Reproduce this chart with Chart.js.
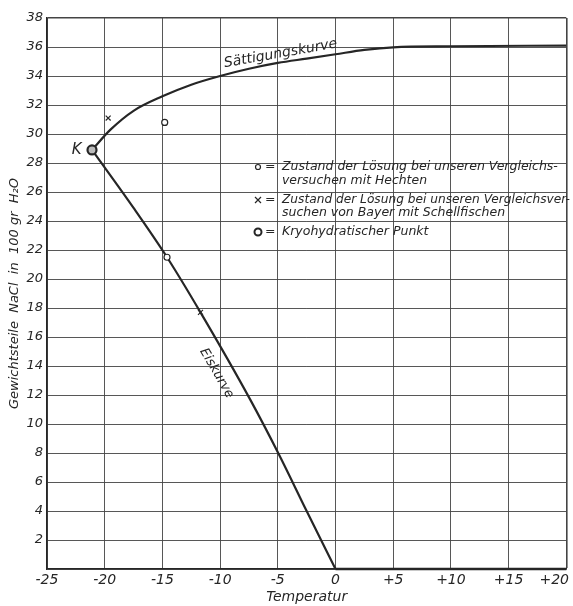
<!DOCTYPE html>
<html>
<head>
<meta charset="utf-8">
<script src="https://cdn.jsdelivr.net/npm/chart.js@4.4.1/dist/chart.umd.min.js"></script>
<style>
  html, body { margin: 0; padding: 0; background: #fff; }
  #grafico { display: block; }
</style>
</head>
<body>
<canvas id="grafico" width="573" height="606"></canvas>
<script>
// Sättigungskurve (Löslichkeit NaCl)
const satTemp = [-21.1, -19.5, -17.5, -15, -12.5, -10, -7.5, -5, -2.5, 0, 2.5, 5, 10, 20];
const satNaCl = [28.9, 30.3, 31.6, 32.6, 33.4, 34.0, 34.5, 34.9, 35.2, 35.5, 35.8, 35.98, 36.05, 36.1];

// Eiskurve
const eisTemp = [-21.1, -17.5, -14.6, -11.7, -7.4, -4.9, -2.5, 0];
const eisNaCl = [28.9, 24.9, 21.5, 17.7, 11.7, 7.9, 4.0, 0];

// Nulllinie rechts vom Eispunkt
const nullTemp = [0, 20];
const nullNaCl = [0, 0];

// Messpunkte
const hechtTemp = [-14.8, -14.6];
const hechtNaCl = [30.8, 21.5];
const bayerTemp = [-19.7, -11.7];
const bayerNaCl = [31.1, 17.7];
const kryoTemp = [-21.1];
const kryoNaCl = [28.9];

const xTicks = [-25, -20, -15, -10, -5, 0, 5, 10, 15, 20];

const legendeZeilen = [
    ['o', 'Zustand der Lösung bei unseren Vergleichs-', 285],
    ['', 'versuchen mit Hechten', 145],
    ['x', 'Zustand der Lösung bei unseren Vergleichsver-', 288],
    ['', 'suchen von Bayer mit Schellfischen', 230],
    ['k', 'Kryohydratischer Punkt', 153]
];

const zuPunkten = (xs, ys) => xs.map((x, i) => ({ x: x, y: ys[i] }));

const tinte = '#262626';
const schrift = 'DejaVu Sans';

const beschriftung = {
    id: 'beschriftung',
    beforeDraw(chart) {
        const c = chart.ctx;
        c.save();
        c.fillStyle = '#fff';
        c.fillRect(0, 0, chart.width, chart.height);
        c.restore();
        // letzte x-Beschriftung rechtsbündig, damit "+20" nicht abgeschnitten wird
        const items = chart.scales.x.getLabelItems();
        const letzte = items[items.length - 1];
        if (letzte && letzte.options.textAlign !== 'right') {
            letzte.options.textAlign = 'right';
            letzte.options.translation[0] = chart.width - 4;
        }
    },
    afterDatasetsDraw(chart) {
        const c = chart.ctx;
        const sx = chart.scales.x;
        const sy = chart.scales.y;
        c.save();
        c.fillStyle = tinte;
        c.strokeStyle = tinte;

        // K
        c.font = 'italic 15px ' + schrift;
        c.textAlign = 'right';
        c.textBaseline = 'middle';
        c.fillText('K', sx.getPixelForValue(-22.0), sy.getPixelForValue(28.9));

        // Sättigungskurve
        c.save();
        c.translate(sx.getPixelForValue(-9.6), sy.getPixelForValue(34.6));
        c.rotate(-10 * Math.PI / 180);
        c.font = 'italic 14px ' + schrift;
        c.textAlign = 'left';
        c.textBaseline = 'alphabetic';
        c.fillText('Sättigungskurve', 0, 0, 116);
        c.restore();

        // Eiskurve
        c.save();
        c.translate(sx.getPixelForValue(-10.3), sy.getPixelForValue(13.5));
        c.rotate(60 * Math.PI / 180);
        c.font = 'italic 13px ' + schrift;
        c.textAlign = 'center';
        c.textBaseline = 'middle';
        c.fillText('Eiskurve', 0, 0, 62);
        c.restore();

        // Legende
        const x0 = 258, tx = 282;
        const zeilenY = [167, 181, 200, 213, 232];
        c.font = 'italic 12.5px ' + schrift;
        c.textAlign = 'left';
        c.textBaseline = 'middle';
        legendeZeilen.forEach((z, i) => {
            const y = zeilenY[i];
            c.lineWidth = 1.2;
            if (z[0] === 'o') {
                c.beginPath(); c.arc(x0, y, 2.5, 0, Math.PI * 2); c.stroke();
            } else if (z[0] === 'x') {
                c.beginPath();
                c.moveTo(x0 - 3, y - 3); c.lineTo(x0 + 3, y + 3);
                c.moveTo(x0 + 3, y - 3); c.lineTo(x0 - 3, y + 3);
                c.stroke();
            } else if (z[0] === 'k') {
                c.lineWidth = 2;
                c.beginPath(); c.arc(x0, y, 3.5, 0, Math.PI * 2); c.stroke();
            }
            if (z[0]) c.fillText('=', x0 + 7, y);
            c.fillText(z[1], tx, y, z[2]);
        });
        c.restore();
    }
};

new Chart(document.getElementById('grafico'), {
    type: 'scatter',
    data: {
        datasets: [
            {
                label: 'Sättigungskurve',
                type: 'line',
                data: zuPunkten(satTemp, satNaCl),
                borderColor: tinte,
                borderWidth: 2.2,
                pointRadius: 0,
                cubicInterpolationMode: 'monotone',
                fill: false,
                order: 2
            },
            {
                label: 'Eiskurve',
                type: 'line',
                data: zuPunkten(eisTemp, eisNaCl),
                borderColor: tinte,
                borderWidth: 2.2,
                pointRadius: 0,
                cubicInterpolationMode: 'monotone',
                fill: false,
                order: 2
            },
            {
                label: 'Nulllinie',
                type: 'line',
                data: zuPunkten(nullTemp, nullNaCl),
                borderColor: tinte,
                borderWidth: 2.6,
                pointRadius: 0,
                tension: 0,
                clip: false,
                fill: false,
                order: 2
            },
            {
                label: 'Hechte',
                data: zuPunkten(hechtTemp, hechtNaCl),
                pointStyle: 'circle',
                pointRadius: 3,
                backgroundColor: '#fff',
                borderColor: tinte,
                borderWidth: 1.2,
                order: 1
            },
            {
                label: 'Bayer',
                data: zuPunkten(bayerTemp, bayerNaCl),
                pointStyle: 'crossRot',
                pointRadius: 3.5,
                borderColor: tinte,
                borderWidth: 1.2,
                order: 1
            },
            {
                label: 'Kryohydratischer Punkt',
                data: zuPunkten(kryoTemp, kryoNaCl),
                pointStyle: 'circle',
                pointRadius: 4.5,
                backgroundColor: '#bbb',
                borderColor: tinte,
                borderWidth: 2.2,
                order: 0
            }
        ]
    },
    options: {
        responsive: false,
        animation: false,
        devicePixelRatio: 1,
        layout: { padding: { left: 0, right: 6, top: 18, bottom: 0 } },
        plugins: {
            legend: { display: false },
            tooltip: { enabled: false }
        },
        scales: {
            x: {
                type: 'linear',
                min: -25,
                max: 20,
                afterBuildTicks: s => { s.ticks = xTicks.map(v => ({ value: v })); },
                afterFit: s => { s.height = 37; s.paddingLeft = 0; s.paddingRight = 0; },
                ticks: {
                    color: tinte,
                    padding: 3,
                    maxRotation: 0,
                    font: { family: schrift, style: 'italic', size: 14 },
                    callback: v => v > 0 ? '+' + v : String(v)
                },
                grid: {
                    color: '#444',
                    lineWidth: ctx => ctx.tick && ctx.tick.value === 20 ? 1.6 : 0.9,
                    drawTicks: false
                },
                border: { color: tinte, width: 1.6 },
                title: {
                    display: true,
                    text: 'Temperatur',
                    color: tinte,
                    padding: { top: 0, bottom: 0 },
                    font: { family: schrift, style: 'italic', size: 14 }
                }
            },
            y: {
                type: 'linear',
                min: 0,
                max: 38,
                afterFit: s => { s.width = 47; },
                ticks: {
                    stepSize: 2,
                    color: tinte,
                    padding: 4,
                    font: { family: schrift, style: 'italic', size: 13 },
                    callback: v => v === 0 ? '' : String(v)
                },
                grid: {
                    color: '#444',
                    lineWidth: ctx => ctx.tick && ctx.tick.value === 38 ? 1.6 : 0.9,
                    drawTicks: false
                },
                border: { color: tinte, width: 1.6 },
                title: {
                    display: true,
                    text: 'Gewichtsteile  NaCl  in  100 gr  H₂O',
                    color: tinte,
                    padding: { top: 7, bottom: 0 },
                    font: { family: schrift, style: 'italic', size: 13 }
                }
            }
        }
    },
    plugins: [beschriftung]
});
</script>
</body>
</html>
